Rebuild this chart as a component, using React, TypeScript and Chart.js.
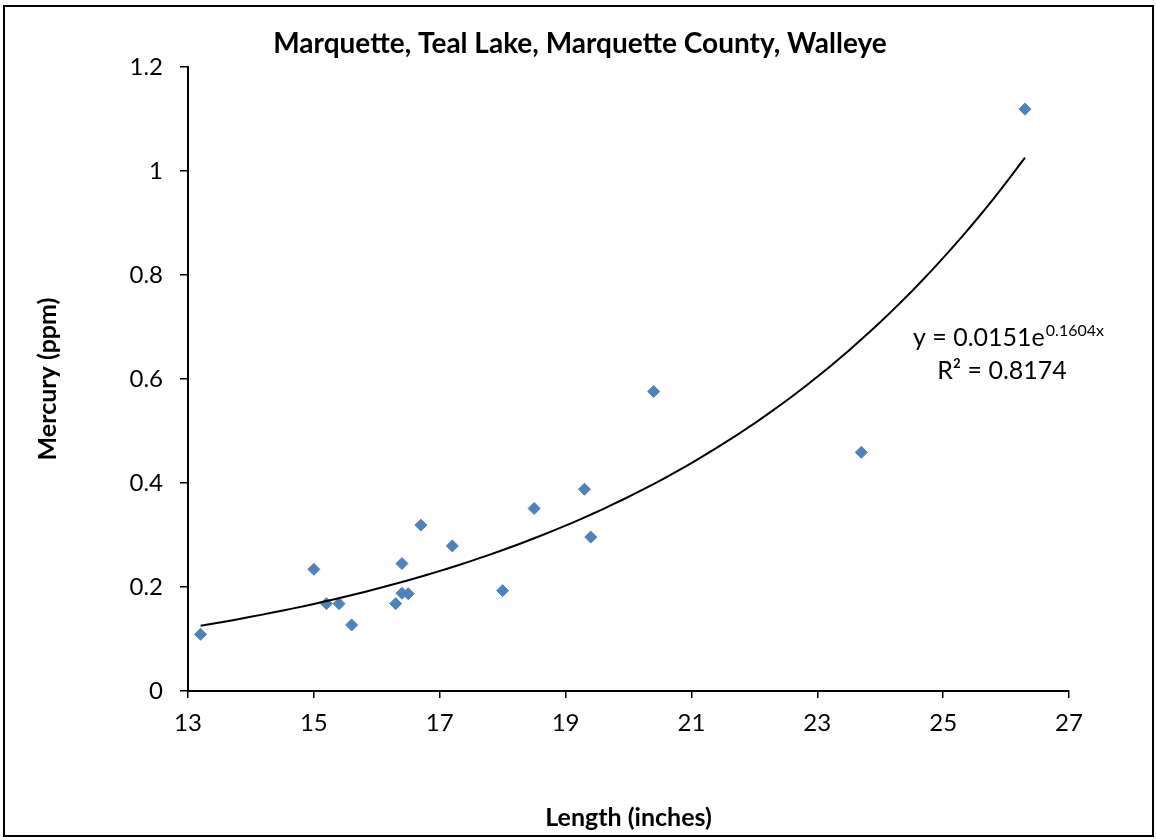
import React, { useEffect, useRef } from "react";
import { Chart, registerables } from "chart.js";

Chart.register(...registerables);

const TITLE = "Marquette, Teal Lake, Marquette County, Walleye";
const X_LABEL = "Length (inches)";
const Y_LABEL = "Mercury (ppm)";

const LENGTHS = [13.2, 15.0, 15.2, 15.4, 15.6, 16.3, 16.4, 16.4, 16.5, 16.7, 17.2, 18.0, 18.5, 19.3, 19.4, 20.4, 23.7, 26.3];
const MERCURY = [0.109, 0.234, 0.168, 0.168, 0.127, 0.168, 0.245, 0.188, 0.187, 0.319, 0.279, 0.193, 0.351, 0.388, 0.296, 0.576, 0.459, 1.119];

// Exponential trendline as reported on the chart: y = A * e^(B x)
const TREND_A = 0.0151;
const TREND_B = 0.1604;
const TREND_R2 = "0.8174";
const TREND_STEPS = 80;

const X_MIN = 13;
const X_MAX = 27;
const X_STEP = 2;
const Y_MIN = 0;
const Y_MAX = 1.2;
const Y_STEP = 0.2;

const FONT = "Lato, 'Noto Sans', 'Liberation Sans', sans-serif";
const MARKER = "#4F81BD";

export default function App() {
  const ref = useRef<HTMLCanvasElement | null>(null);

  useEffect(() => {
    if (!ref.current) return;
    const xs0 = Math.min(...LENGTHS);
    const xs1 = Math.max(...LENGTHS);
    const trend = [] as { x: number; y: number }[];
    for (let i = 0; i <= TREND_STEPS; i++) {
      const x = xs0 + ((xs1 - xs0) * i) / TREND_STEPS;
      trend.push({ x, y: TREND_A * Math.exp(TREND_B * x) });
    }
    const points = LENGTHS.map((x, i) => ({ x, y: MERCURY[i] }));

    const decor = {
      id: "decor",
      afterDraw(chart: any) {
        const ctx = chart.ctx as CanvasRenderingContext2D;
        const { chartArea } = chart;
        ctx.save();
        // outer frame
        ctx.strokeStyle = "#000";
        ctx.lineWidth = 2;
        ctx.strokeRect(4, 6, chart.width - 7, chart.height - 10);
        // title
        ctx.fillStyle = "#000";
        ctx.font = `bold 28px ${FONT}`;
        ctx.textAlign = "center";
        ctx.textBaseline = "middle";
        ctx.fillText(TITLE, chart.width / 2 + 2, 44);
        // trendline equation
        const mainFont = `25px ${FONT}`;
        const supFont = `16px ${FONT}`;
        const part1 = `y = ${TREND_A}e`;
        const part2 = `${TREND_B}x`;
        ctx.textBaseline = "alphabetic";
        ctx.textAlign = "left";
        ctx.font = mainFont;
        const w1 = ctx.measureText(part1).width;
        ctx.font = supFont;
        const w2 = ctx.measureText(part2).width;
        const cx = chartArea.right - 61;
        const lx = cx - (w1 + w2) / 2;
        const base1 = chartArea.top + 279;
        ctx.font = mainFont;
        ctx.fillText(part1, lx, base1);
        ctx.font = supFont;
        ctx.fillText(part2, lx + w1 + 1, base1 - 10);
        ctx.font = mainFont;
        ctx.textAlign = "center";
        ctx.fillText(`R\u00B2 = ${TREND_R2}`, chartArea.right - 67, base1 + 33);
        ctx.restore();
      },
    };

    const chart = new Chart(ref.current, {
      type: "scatter",
      data: {
        datasets: [
          {
            type: "line",
            label: "Trend",
            data: trend,
            borderColor: "#000",
            borderWidth: 2,
            pointRadius: 0,
            fill: false,
            tension: 0,
            order: 0,
          } as any,
          {
            label: "Walleye",
            data: points,
            pointStyle: "rectRot",
            pointRadius: 6,
            backgroundColor: MARKER,
            borderColor: MARKER,
            borderWidth: 1,
            order: 1,
          },
        ],
      },
      options: {
        animation: false,
        responsive: true,
        maintainAspectRatio: false,
        layout: { padding: { top: 67, right: 87, bottom: 0, left: 0 } },
        plugins: {
          legend: { display: false },
          tooltip: { enabled: false },
          title: { display: false },
        },
        scales: {
          x: {
            type: "linear",
            min: X_MIN,
            max: X_MAX,
            grid: { drawOnChartArea: false, drawTicks: true, tickLength: 7, color: "#000", lineWidth: 1.5 },
            border: { display: true, color: "#000", width: 2 },
            ticks: {
              stepSize: X_STEP,
              padding: 11,
              color: "#000",
              font: { family: FONT, size: 24 },
            },
            title: {
              display: true,
              text: X_LABEL,
              color: "#000",
              font: { family: FONT, size: 25, weight: "bold" },
              padding: { top: 0, bottom: 7 },
            },
            afterFit(scale: any) {
              scale.height = 149;
            },
          },
          y: {
            type: "linear",
            min: Y_MIN,
            max: Y_MAX,
            grid: { drawOnChartArea: false, drawTicks: true, tickLength: 8, color: "#000", lineWidth: 1.5 },
            border: { display: true, color: "#000", width: 2 },
            ticks: {
              stepSize: Y_STEP,
              padding: 17,
              color: "#000",
              font: { family: FONT, size: 24 },
              callback: (v: any) => String(Math.round(Number(v) * 10) / 10),
            },
            title: {
              display: true,
              text: Y_LABEL,
              color: "#000",
              font: { family: FONT, size: 25, weight: "bold" },
              padding: { top: 33, bottom: 0 },
            },
            afterFit(scale: any) {
              scale.width = 188;
            },
          },
        },
      },
      plugins: [decor],
    });
    return () => chart.destroy();
  }, []);

  return (
    <div style={{ position: "absolute", left: 0, top: 0, width: 1156, height: 840, background: "#fff" }}>
      <canvas ref={ref} />
    </div>
  );
}
